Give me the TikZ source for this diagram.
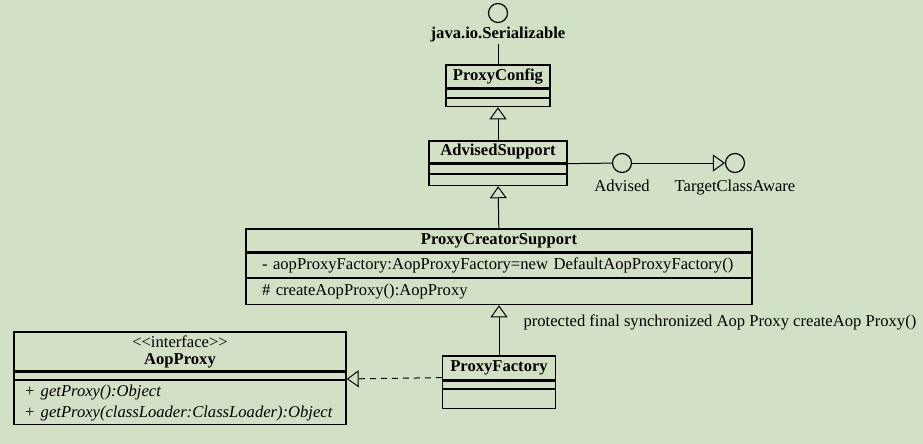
\documentclass[tikz,border=0pt]{standalone}
\usepackage{fontspec}
\setmainfont{Liberation Serif}
\usepackage{tikz}
\usetikzlibrary{positioning, arrows.meta}
\definecolor{paper}{RGB}{210,225,198}
\newcommand{\umlfont}{\fontsize{16.6}{19}\selectfont}

\begin{document}
\begin{tikzpicture}[x=1pt, y=-1pt, node distance=0pt, font=\umlfont,
	box/.style={draw, line width=1.3pt, inner sep=0pt},
	cname/.style={box, font=\umlfont\bfseries},
	cmeth/.style={box, align=left, inner xsep=10pt},
	gen/.style={-{Triangle[open, length=12pt, width=17pt]}, line width=1pt},
	real/.style={gen, dash pattern=on 6pt off 5pt},
	lolli/.style={circle, draw, line width=1.2pt, minimum size=19pt, inner sep=0pt}]
	\path[use as bounding box, fill=paper] (0,0) rectangle (923,444);
	% interfaces
	\node[lolli] (ser) at (498,13) {};
	\node[font=\umlfont\bfseries, inner sep=1pt] (serlbl) at (498,35) {java.io.Serializable};
	\node[lolli] (advd) at (622,163) {};
	\node[below=3pt of advd] (advdlbl) {Advised};
	\node[lolli] (tca) at (735,163) {};
	\node[below=3pt of tca] (tcalbl) {TargetClassAware};
	% classes
	\node[cname, minimum width=104pt, minimum height=23pt] (cfg) at (498,76.5) {ProxyConfig};
	\node[box, minimum width=104pt, minimum height=8pt, below=of cfg] (cfgA) {};
	\node[box, minimum width=104pt, minimum height=8pt, below=of cfgA] (cfgB) {};
	\node[cname, minimum width=138pt, minimum height=22pt] (adv) at (498,152) {AdvisedSupport};
	\node[box, minimum width=138pt, minimum height=9pt, below=of adv] (advA) {};
	\node[box, minimum width=138pt, minimum height=11pt, below=of advA] (advB) {};
	\node[cname, minimum width=506pt, minimum height=23pt] (pcs) at (499,240.5) {ProxyCreatorSupport};
	\node[cmeth, text width=474pt, inner xsep=16pt, minimum height=24pt, below=of pcs] (pcsA) {- aopProxyFactory:AopProxyFactory=new DefaultAopProxyFactory()};
	\node[cmeth, text width=474pt, inner xsep=16pt, minimum height=26pt, below=of pcsA] (pcsB) {\# createAopProxy():AopProxy};
	\node[cname, minimum width=113pt, minimum height=24pt] (pf) at (499,368) {ProxyFactory};
	\node[box, minimum width=113pt, minimum height=7pt, below=of pf] (pfA) {};
	\node[box, minimum width=113pt, minimum height=19pt, below=of pfA] (pfB) {};
	\node[box, align=center, minimum width=332pt, minimum height=39pt] (aop) at (180,351.5)
		{\textless{}\kern0pt\textless{}interface\textgreater{}\kern0pt\textgreater\\[-2pt]\textbf{AopProxy}};
	\node[box, minimum width=332pt, minimum height=7pt, below=of aop] (aopA) {};
	\node[cmeth, text width=312pt, minimum height=44pt, font=\fontsize{16.6}{21}\selectfont\itshape, below=of aopA] (aopB)
		{+ getProxy():Object\\+ getProxy(classLoader:ClassLoader):Object};
	\node[anchor=west] (note) at (520,322) {protected final synchronized Aop Proxy createAop Proxy()};
	% connectors
	\draw[line width=1pt] (serlbl) -- (cfg);
	\draw[gen] (adv) -- (cfgB);
	\draw[gen] (pcs) -- (advB);
	\draw[gen] (pf) -- (pcsB);
	\draw[line width=1pt] (advA.north east) -- (advd);
	\draw[gen] (advd) -- (tca);
	\draw[real] ([yshift=3pt]pf.south west) -- ([yshift=1pt]aopA.south east);
\end{tikzpicture}
\end{document}
